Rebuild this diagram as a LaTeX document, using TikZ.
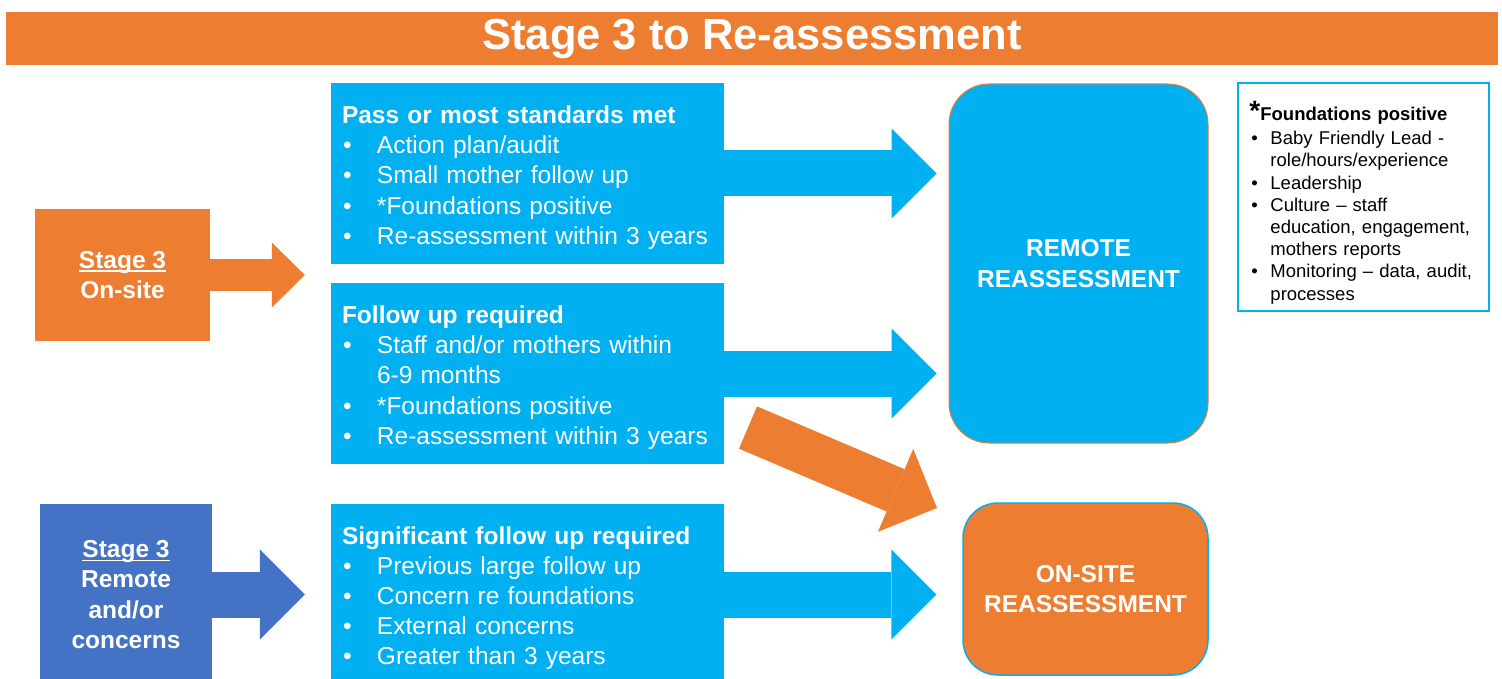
\documentclass[tikz,border=0pt]{standalone}
\usepackage{xcolor}
\usepackage{fontspec}
\setmainfont{Liberation Sans}
\usepackage{tikz}
\usetikzlibrary{calc}
\usetikzlibrary{arrows.meta}
\usetikzlibrary{positioning}
\definecolor{bforange}{HTML}{ED7D31}
\definecolor{bfcyan}{HTML}{00B0F0}
\definecolor{bfblue}{HTML}{4472C4}
\setlength{\parindent}{0pt}
\newcommand{\bitem}[1]{\par\hangindent=35pt\hangafter=1\makebox[35pt][l]{\hspace{1pt}\textbullet}#1}
\newcommand{\sitem}[1]{\par\hangindent=21pt\hangafter=1\makebox[21pt][l]{\hspace{2pt}\textbullet}#1}
\newcommand{\stageline}[1]{\setbox0\hbox{#1}\rlap{\rule[-3.5pt]{\wd0}{1.6pt}}\box0}

\begin{document}
\begin{tikzpicture}[x=1pt,y=-1pt,
	bigarrow/.style={line width=46pt,-{Triangle[length=45pt,width=90pt,line width=0pt]}},
	smallarrow/.style={line width=32pt,-{Triangle[length=33pt,width=65pt,line width=0pt]}},
	stagebox/.style={text=white,align=center,font=\bfseries\fontsize{24.5}{30.2}\selectfont},
	midbox/.style={fill=bfcyan,minimum width=393pt,minimum height=181pt,inner sep=0pt},
	midtext/.style={text=white,text width=371pt,align=left,inner sep=0pt,anchor=north west,font=\fontsize{24.5}{30.2}\selectfont},
	reassess/.style={text=white,align=center,font=\bfseries\fontsize{24.5}{30.2}\selectfont}]
	\useasboundingbox (0,0) rectangle (1502,679);
	\node[fill=bforange,minimum width=1492pt,minimum height=53pt,inner sep=0pt] (titlebar) at (752,38.5) {};
	\node[anchor=base,text=white,inner sep=0pt,font=\bfseries\fontsize{43.5}{50}\selectfont] (title) at (752,50) {Stage 3 to Re-assessment};
	\node[stagebox,fill=bforange,minimum width=175pt,minimum height=132pt] (stageone) at (122.5,275) {\stageline{Stage 3}\\On-site};
	\node[stagebox,fill=bfblue,minimum width=172pt,minimum height=181pt] (stagetwo) at (126,594.5) {\stageline{Stage 3}\\Remote\\and/or\\concerns};
	\node[midbox] (pass) at (527.5,173.5) {};
	\node[midtext] (passlist) at ($(pass.north west)+(11,22.8)$) {\textbf{Pass or most standards met}
		\bitem{Action plan/audit}
		\bitem{Small mother follow up}
		\bitem{*Foundations positive}
		\bitem{Re-assessment within 3 years}\par};
	\node[midbox] (follow) at (527.5,373.5) {};
	\node[midtext] (followlist) at ($(follow.north west)+(11,22.8)$) {\textbf{Follow up required}
		\bitem{Staff and/or mothers within\newline 6-9 months}
		\bitem{*Foundations positive}
		\bitem{Re-assessment within 3 years}\par};
	\node[midbox] (signif) at (527.5,594.5) {};
	\node[midtext] (signiflist) at ($(signif.north west)+(11,22.3)$) {\textbf{Significant follow up required}
		\bitem{Previous large follow up}
		\bitem{Concern re foundations}
		\bitem{External concerns}
		\bitem{Greater than 3 years}\par};
	\node[reassess,fill=bfcyan,draw=bforange,line width=1pt,rounded corners=40pt,minimum width=259pt,minimum height=359pt] (remote) at (1078.5,263.5) {REMOTE\\REASSESSMENT};
	\node[reassess,fill=bforange,draw=bfcyan,line width=1.5pt,rounded corners=35pt,minimum width=245pt,minimum height=172pt] (onsite) at (1085.5,589) {ON-SITE\\REASSESSMENT};
	\node[draw=bfcyan,line width=1.5pt,fill=white,minimum width=251pt,minimum height=228pt,inner sep=0pt] (info) at (1363.5,197) {};
	\node[anchor=north west,inner sep=0pt,text width=227pt,align=left,font=\fontsize{18.5}{22.2}\selectfont] (infolist) at ($(info.north west)+(12,19)$) {{\fontsize{28}{22.2}\selectfont\bfseries *}\textbf{Foundations positive}\par\vspace{1.8pt}
		\sitem{Baby Friendly Lead -\newline role/hours/experience}
		\sitem{Leadership}
		\sitem{Culture – staff\newline education, engagement,\newline mothers reports}
		\sitem{Monitoring – data, audit,\newline processes}\par};
	\coordinate (passtip) at ($(remote.west |- pass.east)+(-12,0)$);
	\coordinate (followtip) at ($(remote.west |- follow.east)+(-12,0)$);
	\coordinate (signiftip) at ($(onsite.west |- signif.east)+(-26,0)$);
	\coordinate (onetip) at ($(pass.west |- stageone.east)+(-26,0)$);
	\coordinate (twotip) at ($(signif.west |- stagetwo.east)+(-26,0)$);
	\coordinate (diagtail) at (748,427.5);
	\coordinate (diagtip) at (937,508);
	\draw[smallarrow,bforange] (stageone.east) -- (onetip);
	\draw[bigarrow,bfblue] (stagetwo.east) -- (twotip);
	\draw[bigarrow,bfcyan] (pass.east) -- (passtip);
	\draw[bigarrow,bfcyan] (follow.east) -- (followtip);
	\draw[bigarrow,bfcyan] (signif.east) -- (signiftip);
	\draw[bigarrow,bforange] (diagtail) -- (diagtip);
\end{tikzpicture}
\end{document}
